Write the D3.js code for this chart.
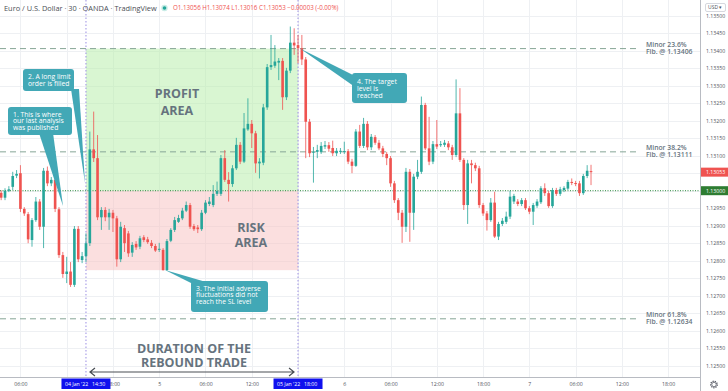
<!DOCTYPE html>
<html>
<head>
<meta charset="utf-8">
<script src="https://cdn.jsdelivr.net/npm/d3@7"></script>
<style>
	body { margin: 0; background: #fff; }
	svg { display: block; font-family: "Open Sans", sans-serif; }
</style>
</head>
<body>
<div id="chart"></div>
<script>
// size of the picture
var width = 728;
var height = 391;
var plotRight = 700;
var plotBottom = 377;

// 30 minute candles, the first one opens at 03:30 on 4 Jan 2022
var firstCandle = new Date(2022, 0, 4, 3, 30);
var candleMinutes = 30;

var opens = [1.12994, 1.12980, 1.13000, 1.13011, 1.13043, 1.13050, 1.12948, 1.12933, 1.12859, 1.12916,
	1.12969, 1.12897, 1.13057, 1.13021, 1.13031, 1.12947, 1.12816, 1.12762, 1.12769, 1.12731,
	1.12891, 1.12802, 1.12813, 1.12850, 1.13118, 1.13093, 1.12924, 1.12945, 1.12924, 1.12937,
	1.12921, 1.12804, 1.12893, 1.12878, 1.12823, 1.12848, 1.12840, 1.12867, 1.12861, 1.12851,
	1.12842, 1.12831, 1.12831, 1.12773, 1.12857, 1.12888, 1.12911, 1.12921, 1.12943, 1.12959,
	1.12899, 1.12895, 1.12890, 1.12937, 1.12962, 1.12959, 1.12991, 1.12991, 1.13093, 1.13031,
	1.13019, 1.13064, 1.13131, 1.13083, 1.13175, 1.13191, 1.13164, 1.13078, 1.13080, 1.13238,
	1.13353, 1.13357, 1.13366, 1.13371, 1.13267, 1.13343, 1.13423, 1.13416, 1.13407, 1.13375,
	1.13197, 1.13109, 1.13111, 1.13111, 1.13126, 1.13130, 1.13122, 1.13107, 1.13111, 1.13111,
	1.13113, 1.13083, 1.13071, 1.13169, 1.13128, 1.13191, 1.13124, 1.13153, 1.13137, 1.13121,
	1.13105, 1.13093, 1.13021, 1.12973, 1.12937, 1.12897, 1.13054, 1.12937, 1.13040, 1.13054,
	1.13245, 1.13121, 1.13083, 1.13133, 1.13130, 1.13131, 1.13135, 1.13124, 1.13102, 1.13221,
	1.13088, 1.12959, 1.13078, 1.13073, 1.13064, 1.12959, 1.12935, 1.12916, 1.12966, 1.12869,
	1.12905, 1.12911, 1.12926, 1.12969, 1.12969, 1.12962, 1.12973, 1.12950, 1.12940, 1.12957,
	1.12967, 1.13007, 1.12993, 1.12956, 1.13002, 1.12991, 1.13002, 1.13006, 1.13025, 1.13022,
	1.13021, 1.12993, 1.13042, 1.13056];

var highs = [1.13001, 1.13007, 1.13013, 1.13054, 1.13059, 1.13073, 1.12953, 1.12939, 1.12922, 1.12982,
	1.12976, 1.13065, 1.13069, 1.13039, 1.13036, 1.12953, 1.12825, 1.12811, 1.12796, 1.12899,
	1.12899, 1.12825, 1.12878, 1.13169, 1.13226, 1.13159, 1.12953, 1.12953, 1.12948, 1.12945,
	1.12928, 1.12911, 1.12902, 1.12885, 1.12853, 1.12856, 1.12871, 1.12873, 1.12868, 1.12859,
	1.12848, 1.12851, 1.12836, 1.12862, 1.12893, 1.12925, 1.12931, 1.12951, 1.12969, 1.12965,
	1.12905, 1.12902, 1.12945, 1.12973, 1.12982, 1.13016, 1.13026, 1.13102, 1.13116, 1.13053,
	1.13073, 1.13151, 1.13139, 1.13222, 1.13264, 1.13202, 1.13171, 1.13093, 1.13248, 1.13362,
	1.13445, 1.13416, 1.13379, 1.13379, 1.13351, 1.13469, 1.13464, 1.13445, 1.13445, 1.13382,
	1.13205, 1.13125, 1.13131, 1.13139, 1.13142, 1.13139, 1.13143, 1.13122, 1.13122, 1.13140,
	1.13119, 1.13091, 1.13176, 1.13188, 1.13208, 1.13199, 1.13162, 1.13159, 1.13145, 1.13128,
	1.13111, 1.13099, 1.13028, 1.12979, 1.12945, 1.13065, 1.13062, 1.13048, 1.13088, 1.13269,
	1.13251, 1.13211, 1.13142, 1.13202, 1.13142, 1.13145, 1.13142, 1.13131, 1.13318, 1.13293,
	1.13093, 1.13088, 1.13088, 1.13080, 1.13071, 1.12965, 1.12942, 1.12979, 1.12997, 1.12911,
	1.12922, 1.12940, 1.13000, 1.12991, 1.12976, 1.12979, 1.12979, 1.12956, 1.12965, 1.12976,
	1.13013, 1.13021, 1.12999, 1.13008, 1.13008, 1.13011, 1.13013, 1.13031, 1.13035, 1.13028,
	1.13028, 1.13048, 1.13073, 1.13074];

var lows = [1.12973, 1.12973, 1.12996, 1.13002, 1.13036, 1.12939, 1.12928, 1.12850, 1.12840, 1.12911,
	1.12888, 1.12836, 1.13013, 1.13013, 1.12939, 1.12808, 1.12751, 1.12736, 1.12725, 1.12725,
	1.12796, 1.12793, 1.12796, 1.12842, 1.13082, 1.12916, 1.12888, 1.12913, 1.12888, 1.12882,
	1.12783, 1.12796, 1.12825, 1.12811, 1.12811, 1.12831, 1.12833, 1.12853, 1.12848, 1.12836,
	1.12825, 1.12825, 1.12772, 1.12771, 1.12853, 1.12882, 1.12908, 1.12916, 1.12939, 1.12891,
	1.12885, 1.12879, 1.12885, 1.12933, 1.12956, 1.12953, 1.12985, 1.12985, 1.13025, 1.12969,
	1.13011, 1.13059, 1.13076, 1.13079, 1.13171, 1.13122, 1.13051, 1.13035, 1.13073, 1.13231,
	1.13345, 1.13351, 1.13316, 1.13231, 1.13259, 1.13336, 1.13388, 1.13364, 1.13359, 1.13093,
	1.13096, 1.13023, 1.13093, 1.13105, 1.13119, 1.13111, 1.13099, 1.13099, 1.13105, 1.13105,
	1.13076, 1.13050, 1.13068, 1.13122, 1.13122, 1.13116, 1.13116, 1.13131, 1.13116, 1.13096,
	1.13073, 1.13011, 1.12965, 1.12916, 1.12851, 1.12882, 1.12854, 1.12888, 1.13033, 1.13048,
	1.13116, 1.13073, 1.13076, 1.13119, 1.13125, 1.13125, 1.13116, 1.13088, 1.13096, 1.13082,
	1.12945, 1.12905, 1.13021, 1.13056, 1.12951, 1.12928, 1.12886, 1.12911, 1.12865, 1.12859,
	1.12899, 1.12905, 1.12919, 1.12962, 1.12956, 1.12956, 1.12945, 1.12933, 1.12902, 1.12951,
	1.12962, 1.12985, 1.12951, 1.12951, 1.12985, 1.12985, 1.12996, 1.13002, 1.13016, 1.13013,
	1.12985, 1.12988, 1.13036, 1.13016];

var closes = [1.12980, 1.13000, 1.13004, 1.13042, 1.13048, 1.12948, 1.12935, 1.12861, 1.12916, 1.12969,
	1.12897, 1.13057, 1.13021, 1.13031, 1.12948, 1.12816, 1.12762, 1.12769, 1.12731, 1.12891,
	1.12804, 1.12813, 1.12850, 1.13118, 1.13093, 1.12924, 1.12945, 1.12924, 1.12937, 1.12921,
	1.12804, 1.12897, 1.12850, 1.12821, 1.12845, 1.12838, 1.12864, 1.12859, 1.12853, 1.12842,
	1.12829, 1.12834, 1.12773, 1.12856, 1.12888, 1.12916, 1.12922, 1.12943, 1.12959, 1.12897,
	1.12890, 1.12890, 1.12937, 1.12966, 1.12969, 1.12991, 1.12999, 1.13093, 1.13031, 1.13019,
	1.13064, 1.13131, 1.13083, 1.13178, 1.13191, 1.13164, 1.13078, 1.13083, 1.13238, 1.13353,
	1.13359, 1.13369, 1.13371, 1.13267, 1.13343, 1.13423, 1.13415, 1.13407, 1.13375, 1.13197,
	1.13107, 1.13111, 1.13116, 1.13128, 1.13130, 1.13120, 1.13107, 1.13114, 1.13114, 1.13113,
	1.13083, 1.13071, 1.13169, 1.13128, 1.13191, 1.13124, 1.13154, 1.13137, 1.13121, 1.13105,
	1.13093, 1.13021, 1.12973, 1.12937, 1.12897, 1.13054, 1.12937, 1.13040, 1.13054, 1.13245,
	1.13121, 1.13083, 1.13133, 1.13126, 1.13133, 1.13137, 1.13124, 1.13102, 1.13221, 1.13088,
	1.12959, 1.13078, 1.13073, 1.13064, 1.12959, 1.12935, 1.12916, 1.12966, 1.12869, 1.12905,
	1.12914, 1.12926, 1.12983, 1.12985, 1.12962, 1.12973, 1.12950, 1.12940, 1.12959, 1.12969,
	1.13007, 1.12993, 1.12956, 1.13002, 1.12991, 1.13004, 1.13008, 1.13025, 1.13022, 1.13019,
	1.12993, 1.13042, 1.13057, 1.13053];

// price axis labels
var priceTicks = [1.12500, 1.12550, 1.12600, 1.12650, 1.12700, 1.12750, 1.12800, 1.12850, 1.12900, 1.12950,
	1.13000, 1.13050, 1.13100, 1.13150, 1.13200, 1.13250, 1.13300, 1.13350, 1.13400, 1.13450, 1.13500];

// fibonacci levels
var fibLevels = [1.13406, 1.13111, 1.12634];
var fibNames = ["Minor 23.6%", "Minor 38.2%", "Minor 61.8%"];

// trade: entry and exit time, target / entry / stop prices
var entryTime = new Date(2022, 0, 4, 14, 30);
var exitTime = new Date(2022, 0, 5, 18, 0);
var targetPrice = 1.13406;
var entryPrice = 1.13000;
var stopPrice = 1.12773;
var lastPrice = 1.13053;

// colours
var upColor = '#26a69a';
var downColor = '#ef5350';
var noteColor = '#42a8b6';
var labelGray = '#66737e';

var candles = opens.map(function (o, i) {
	return {
		t: d3.timeMinute.offset(firstCandle, i * candleMinutes),
		o: o, h: highs[i], l: lows[i], c: closes[i]
	};
});

// scales
var x = d3.scaleTime()
	.domain([new Date(2022, 0, 4, 3, 21), new Date(2022, 0, 7, 22, 8)])
	.range([0, plotRight]);

var y = d3.scaleLinear()
	.domain([1.125, 1.135])
	.range([365.7, 15.7]);

var svg = d3.select("#chart")
	.append("svg")
	.attr("width", width)
	.attr("height", height);

var timeTicks = x.ticks(d3.timeHour.every(6));

// grid
svg.append("g").selectAll("line")
	.data(timeTicks)
	.enter()
	.append("line")
	.attr("x1", function (d) { return Math.round(x(d)) + 0.5; })
	.attr("x2", function (d) { return Math.round(x(d)) + 0.5; })
	.attr("y1", 0)
	.attr("y2", plotBottom)
	.style("stroke", "#eef0f3");

svg.append("g").selectAll("line")
	.data(priceTicks)
	.enter()
	.append("line")
	.attr("x1", 0)
	.attr("x2", plotRight)
	.attr("y1", function (d) { return Math.round(y(d)) + 0.5; })
	.attr("y2", function (d) { return Math.round(y(d)) + 0.5; })
	.style("stroke", "#eef0f3");

// profit and risk areas
svg.append("rect")
	.attr("x", x(entryTime))
	.attr("y", y(targetPrice))
	.attr("width", x(exitTime) - x(entryTime))
	.attr("height", y(entryPrice) - y(targetPrice))
	.style("fill", "#b4eea6")
	.style("opacity", 0.5);

svg.append("rect")
	.attr("x", x(entryTime))
	.attr("y", y(entryPrice))
	.attr("width", x(exitTime) - x(entryTime))
	.attr("height", y(stopPrice) - y(entryPrice))
	.style("fill", "#f7bfbf")
	.style("opacity", 0.5);

// fib lines
svg.append("g").selectAll("line")
	.data(fibLevels)
	.enter()
	.append("line")
	.attr("x1", 0)
	.attr("x2", 640)
	.attr("y1", function (d) { return y(d); })
	.attr("y2", function (d) { return y(d); })
	.style("stroke", "#86a596")
	.style("stroke-width", 1)
	.style("stroke-dasharray", "6,4");

var fibText = svg.append("g").selectAll("text")
	.data(fibLevels)
	.enter()
	.append("text")
	.attr("x", 646)
	.attr("y", function (d) { return y(d) - 1.8; })
	.style("font-size", "6.8px")
	.style("font-weight", 600)
	.style("fill", labelGray);
fibText.append("tspan")
	.text(function (d, i) { return fibNames[i]; });
fibText.append("tspan")
	.attr("x", 646)
	.attr("dy", 7.2)
	.text(function (d) { return "Fib. @ " + d3.format(".5f")(d); });

// entry level
svg.append("line")
	.attr("x1", 0)
	.attr("x2", plotRight)
	.attr("y1", y(entryPrice))
	.attr("y2", y(entryPrice))
	.style("stroke", "#2e8b3e")
	.style("stroke-dasharray", "1,1.5");

// entry / exit time markers
svg.append("g").selectAll("line")
	.data([entryTime, exitTime])
	.enter()
	.append("line")
	.attr("x1", function (d) { return x(d); })
	.attr("x2", function (d) { return x(d); })
	.attr("y1", 0)
	.attr("y2", plotBottom)
	.style("stroke", "#9b8fe3")
	.style("stroke-dasharray", "1.5,2");

// candles
var band = 3.855;
var candle = svg.append("g").selectAll("g")
	.data(candles)
	.enter()
	.append("g");

candle.append("line")
	.attr("x1", function (d) { return x(d.t); })
	.attr("x2", function (d) { return x(d.t); })
	.attr("y1", function (d) { return y(d.h); })
	.attr("y2", function (d) { return y(d.l); })
	.style("stroke", function (d) { return d.c >= d.o ? upColor : downColor; })
	.style("stroke-width", 0.8);

candle.append("rect")
	.attr("x", function (d) { return x(d.t) - band * 0.34; })
	.attr("width", band * 0.68)
	.attr("y", function (d) { return y(Math.max(d.o, d.c)); })
	.attr("height", function (d) { return Math.max(0.8, Math.abs(y(d.o) - y(d.c))); })
	.style("fill", function (d) { return d.c >= d.o ? upColor : downColor; });

// area captions
function caption(lines, cx, baseY, step, size) {
	svg.append("g").selectAll("text")
		.data(lines)
		.enter()
		.append("text")
		.attr("x", cx)
		.attr("y", function (d, i) { return baseY + i * step; })
		.attr("text-anchor", "middle")
		.style("font-size", size + "px")
		.style("font-weight", 700)
		.style("fill", labelGray)
		.text(function (d) { return d; });
}
caption(["PROFIT", "AREA"], 177, 97.5, 17, 12.5);
caption(["RISK", "AREA"], 251, 232, 15, 12.5);
caption(["DURATION OF THE", "REBOUND TRADE"], 194, 353, 14, 12.5);

// duration arrow
var arrowY = 372;
var ax1 = x(entryTime) + 4, ax2 = x(exitTime) - 4;
svg.append("path")
	.attr("d", "M" + ax1 + "," + arrowY + "H" + ax2 +
		"M" + (ax1 + 5) + "," + (arrowY - 4) + "L" + ax1 + "," + arrowY + "L" + (ax1 + 5) + "," + (arrowY + 4) +
		"M" + (ax2 - 5) + "," + (arrowY - 4) + "L" + ax2 + "," + arrowY + "L" + (ax2 - 5) + "," + (arrowY + 4))
	.style("fill", "none")
	.style("stroke", "#4a4f55")
	.style("stroke-width", 1.2);

// callouts
var notes = [
	{ box: [8, 107, 64, 28], tail: [[39, 133], [53, 133], [63, 206]], tx: 13, ty: 116.5,
		lines: ["1. This is where", "our last analysis", "was published"] },
	{ box: [23, 69, 51, 22], tail: [[71, 89], [79, 89], [85, 183]], tx: 28, ty: 79,
		lines: ["2. A long limit", "order is filled"] },
	{ box: [191, 281, 77, 31], tail: [[193, 284], [206, 282], [165, 270]], tx: 196, ty: 290.5,
		lines: ["3. The initial adverse", "fluctuations did not", "reach the SL level"] },
	{ box: [352, 73, 55, 30], tail: [[355, 76], [355, 87], [300, 48.5]], tx: 357, ty: 84,
		lines: ["4. The target", "level is", "reached"] }
];

notes.forEach(function (n) {
	var g = svg.append("g");
	g.append("path")
		.attr("d", "M" + n.tail.join("L") + "Z")
		.style("fill", noteColor);
	g.append("rect")
		.attr("x", n.box[0])
		.attr("y", n.box[1])
		.attr("width", n.box[2])
		.attr("height", n.box[3])
		.attr("rx", 3)
		.style("fill", noteColor);
	g.selectAll("text")
		.data(n.lines)
		.enter()
		.append("text")
		.attr("x", n.tx)
		.attr("y", function (d, i) { return n.ty + i * 6.9; })
		.style("font-size", "6.8px")
		.style("fill", "#fff")
		.text(function (d) { return d; });
});

// header
svg.append("text")
	.attr("x", 4)
	.attr("y", 10.5)
	.style("font-size", "7.4px")
	.style("fill", "#4b4f56")
	.text("Euro / U.S. Dollar \u00b7 30 \u00b7 OANDA \u00b7 TradingView");
svg.append("circle")
	.attr("cx", 164.5)
	.attr("cy", 8)
	.attr("r", 3.2)
	.style("fill", "#c8ece6");
svg.append("circle")
	.attr("cx", 164.5)
	.attr("cy", 8)
	.attr("r", 1.8)
	.style("fill", upColor);
var last = candles[candles.length - 1];
svg.append("text")
	.attr("x", 173)
	.attr("y", 10)
	.style("font-size", "6.2px")
	.style("fill", downColor)
	.text("O" + d3.format(".5f")(last.o) + " H" + d3.format(".5f")(last.h) + " L" + d3.format(".5f")(last.l) +
		" C" + d3.format(".5f")(last.c) + " " + d3.format(".5f")(last.c - last.o) + " (-0.00%)");

// axes frame
svg.append("rect")
	.attr("x", plotRight)
	.attr("y", 0)
	.attr("width", width - plotRight)
	.attr("height", height)
	.style("fill", "#fff");
svg.append("rect")
	.attr("x", 0)
	.attr("y", plotBottom)
	.attr("width", plotRight)
	.attr("height", height - plotBottom)
	.style("fill", "#fff");
svg.append("line")
	.attr("x1", plotRight + 0.5).attr("x2", plotRight + 0.5)
	.attr("y1", 0).attr("y2", height)
	.style("stroke", "#b8bbc2");
svg.append("line")
	.attr("x1", 0).attr("x2", plotRight)
	.attr("y1", plotBottom + 0.5).attr("y2", plotBottom + 0.5)
	.style("stroke", "#b8bbc2");

// price labels hidden under the price tags are left out
var tagPrices = [lastPrice, entryPrice];
var yAxis = d3.axisRight(y)
	.tickValues(priceTicks.filter(function (p) {
		return tagPrices.every(function (q) { return Math.abs(y(p) - y(q)) > 6; });
	}))
	.tickFormat(d3.format(".5f"))
	.tickSize(0)
	.tickPadding(6);
var yAxisG = svg.append("g")
	.attr("transform", "translate(" + plotRight + ",0)")
	.call(yAxis);

// time labels hidden under the date markers are left out
var xAxis = d3.axisBottom(x)
	.tickValues(timeTicks.filter(function (t) {
		return [entryTime, exitTime].every(function (m) { return Math.abs(x(t) - x(m)) > 22; });
	}))
	.tickFormat(function (d) {
		return d.getHours() === 0 ? d3.timeFormat("%-d")(d) : d3.timeFormat("%H:%M")(d);
	})
	.tickSize(0)
	.tickPadding(5);
var xAxisG = svg.append("g")
	.attr("transform", "translate(0," + plotBottom + ")")
	.call(xAxis);

[yAxisG, xAxisG].forEach(function (g) {
	g.select(".domain").remove();
	g.selectAll("text")
		.style("font-family", "Open Sans")
		.style("font-size", "5.2px")
		.style("fill", "#50535e");
});

// time markers on the axis
var markers = svg.append("g").selectAll("g")
	.data([entryTime, exitTime])
	.enter()
	.append("g")
	.attr("transform", function (d) { return "translate(" + x(d) + "," + (plotBottom + 1.5) + ")"; });
markers.append("rect")
	.attr("x", -24.5)
	.attr("width", 49)
	.attr("height", 10.5)
	.style("fill", "#1010ee");
markers.append("text")
	.attr("x", -21)
	.attr("y", 7)
	.style("font-size", "5.2px")
	.style("fill", "#fff")
	.text(function (d) { return d3.timeFormat("%d %b '%y")(d); });
markers.append("text")
	.attr("x", 6)
	.attr("y", 7)
	.style("font-size", "5.2px")
	.style("fill", "#fff")
	.text(function (d) { return d3.timeFormat("%H:%M")(d); });

// price labels on the axis
var tags = svg.append("g").selectAll("g")
	.data([[lastPrice, downColor], [entryPrice, "#2e7d32"]])
	.enter()
	.append("g")
	.attr("transform", function (d) { return "translate(" + (plotRight + 1) + "," + y(d[0]) + ")"; });
tags.append("rect")
	.attr("y", -4.5)
	.attr("width", 27)
	.attr("height", 9)
	.style("fill", function (d) { return d[1]; });
tags.append("text")
	.attr("x", 5)
	.attr("y", 2)
	.style("font-size", "5.2px")
	.style("fill", "#fff")
	.text(function (d) { return d3.format(".5f")(d[0]); });

// currency button
svg.append("rect")
	.attr("x", 705.5).attr("y", 3.5)
	.attr("width", 20).attr("height", 8)
	.attr("rx", 1.5)
	.style("fill", "#fff")
	.style("stroke", "#d6d8de");
svg.append("text")
	.attr("x", 708)
	.attr("y", 9.3)
	.style("font-size", "5px")
	.style("fill", "#50535e")
	.text("USD \u25be");

// settings gear
svg.append("circle")
	.attr("cx", 714).attr("cy", 384.5).attr("r", 3.2)
	.style("fill", "none")
	.style("stroke", "#50535e")
	.style("stroke-width", 1.4)
	.style("stroke-dasharray", "1.2,1");
svg.append("circle")
	.attr("cx", 714).attr("cy", 384.5).attr("r", 2.2)
	.style("fill", "#fff")
	.style("stroke", "#50535e")
	.style("stroke-width", 0.7);
</script>
</body>
</html>
